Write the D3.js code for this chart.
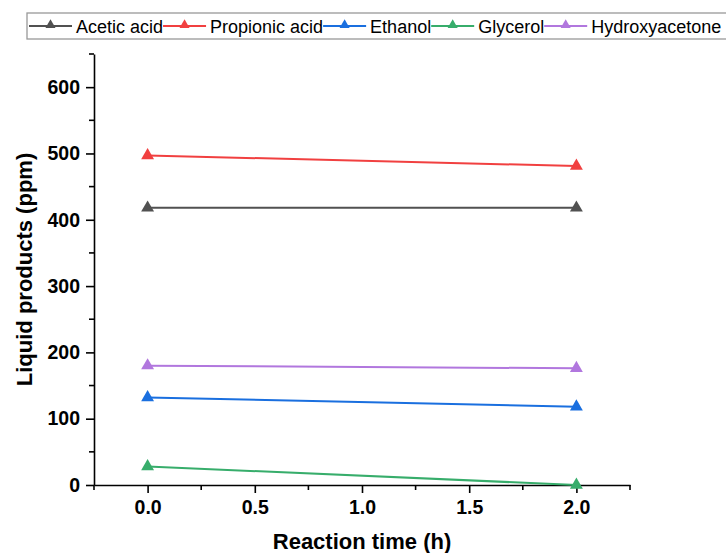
<!DOCTYPE html>
<html>
<head>
<meta charset="utf-8">
<script src="https://cdn.jsdelivr.net/npm/d3@7"></script>
<style>
  body { margin: 0; background: #fff; }
  svg { display: block; font-family: Arial, "Liberation Sans", sans-serif; }
</style>
</head>
<body>
<svg id="chart" width="726" height="553"></svg>
<script>
// data
const times = [0, 2];
const seriesNames = ["Acetic acid", "Propionic acid", "Ethanol", "Glycerol", "Hydroxyacetone"];
const seriesColors = ["#515151", "#F14040", "#1A6FDF", "#37AD6B", "#B177DE"];
const aceticAcid = [418, 418];
const propionicAcid = [497, 481];
const ethanol = [132, 118];
const glycerol = [28, 0];
const hydroxyacetone = [180, 176];
const xTickValues = [0, 0.5, 1.0, 1.5, 2.0];
const yTickValues = [0, 100, 200, 300, 400, 500, 600];

const seriesValues = [aceticAcid, propionicAcid, ethanol, glycerol, hydroxyacetone];

const svg = d3.select("#chart");
const margin = {top: 54, right: 96, bottom: 68, left: 94};
const width = 726, height = 553;

const xScale = d3.scaleLinear()
    .domain([-0.25, 2.25])
    .range([margin.left, width - margin.right]);

const yScale = d3.scaleLinear()
    .domain([0, 650])
    .range([height - margin.bottom, margin.top]);

// x axis: major ticks with labels, minor ticks in between
const xAxis = d3.axisBottom(xScale)
    .tickValues(xTickValues)
    .tickFormat(d3.format(".1f"))
    .tickSizeInner(8)
    .tickSizeOuter(0)
    .tickPadding(7);

const xAxisG = svg.append("g")
    .attr("transform", "translate(0," + yScale(0) + ")")
    .call(xAxis);

xAxisG.selectAll(".minor")
    .data(d3.range(-0.25, 2.26, 0.5))
    .enter().append("line")
    .attr("class", "minor")
    .attr("x1", d => xScale(d)).attr("x2", d => xScale(d))
    .attr("y1", 0).attr("y2", 5);

// y axis
const yAxis = d3.axisLeft(yScale)
    .tickValues(yTickValues)
    .tickSizeInner(8)
    .tickSizeOuter(0)
    .tickPadding(6);

const yAxisG = svg.append("g")
    .attr("transform", "translate(" + xScale(-0.25) + ",0)")
    .call(yAxis);

yAxisG.selectAll(".minor")
    .data(d3.range(50, 651, 100))
    .enter().append("line")
    .attr("class", "minor")
    .attr("y1", d => yScale(d)).attr("y2", d => yScale(d))
    .attr("x1", 0).attr("x2", -5);

svg.selectAll(".domain, .tick line, .minor")
    .attr("stroke", "#000")
    .attr("stroke-width", 1.6);

svg.selectAll(".tick text")
    .attr("font-size", "19.5px")
    .attr("font-weight", "bold")
    .attr("fill", "#000")
    .attr("font-family", "Arial, 'Liberation Sans', sans-serif");

// axis titles
svg.append("text")
    .attr("x", (xScale.range()[0] + xScale.range()[1]) / 2)
    .attr("y", 549)
    .attr("text-anchor", "middle")
    .attr("font-size", "22px")
    .attr("font-weight", "bold")
    .text("Reaction time (h)");

svg.append("text")
    .attr("transform", "translate(32," + (yScale(0) + yScale(650)) / 2 + ") rotate(-90)")
    .attr("text-anchor", "middle")
    .attr("font-size", "22px")
    .attr("font-weight", "bold")
    .text("Liquid products (ppm)");

// lines and markers
const lineGenerator = d3.line()
    .x((d, i) => xScale(times[i]))
    .y(d => yScale(d));

const triangle = d3.symbol().type(d3.symbolTriangle).size(72);

seriesValues.forEach(function(values, k) {
    svg.append("path")
        .attr("d", lineGenerator(values))
        .attr("fill", "none")
        .attr("stroke", seriesColors[k])
        .attr("stroke-width", 2);

    svg.selectAll(".pt" + k)
        .data(values)
        .enter().append("path")
        .attr("class", "pt" + k)
        .attr("d", triangle)
        .attr("transform", (d, i) => "translate(" + xScale(times[i]) + "," + yScale(d) + ")")
        .attr("fill", seriesColors[k]);
});

// legend
const legend = svg.append("g");
legend.append("rect")
    .attr("x", 27).attr("y", 13)
    .attr("width", 720).attr("height", 26)
    .attr("fill", "#fff")
    .attr("stroke", "#999")
    .attr("stroke-width", 1.3);

const legendTri = d3.symbol().type(d3.symbolTriangle).size(44);
let lx = 29;
seriesNames.forEach(function(name, k) {
    const ly = 26;
    legend.append("line")
        .attr("x1", lx).attr("x2", lx + 43)
        .attr("y1", ly).attr("y2", ly)
        .attr("stroke", seriesColors[k])
        .attr("stroke-width", 2);
    legend.append("path")
        .attr("d", legendTri)
        .attr("transform", "translate(" + (lx + 21.5) + "," + (ly - 1) + ")")
        .attr("fill", seriesColors[k]);
    const t = legend.append("text")
        .attr("x", lx + 47)
        .attr("y", 32.5)
        .attr("font-size", "18px")
        .attr("fill", "#000")
        .text(name);
    lx = lx + 47 + t.node().getComputedTextLength();
});
</script>
</body>
</html>
